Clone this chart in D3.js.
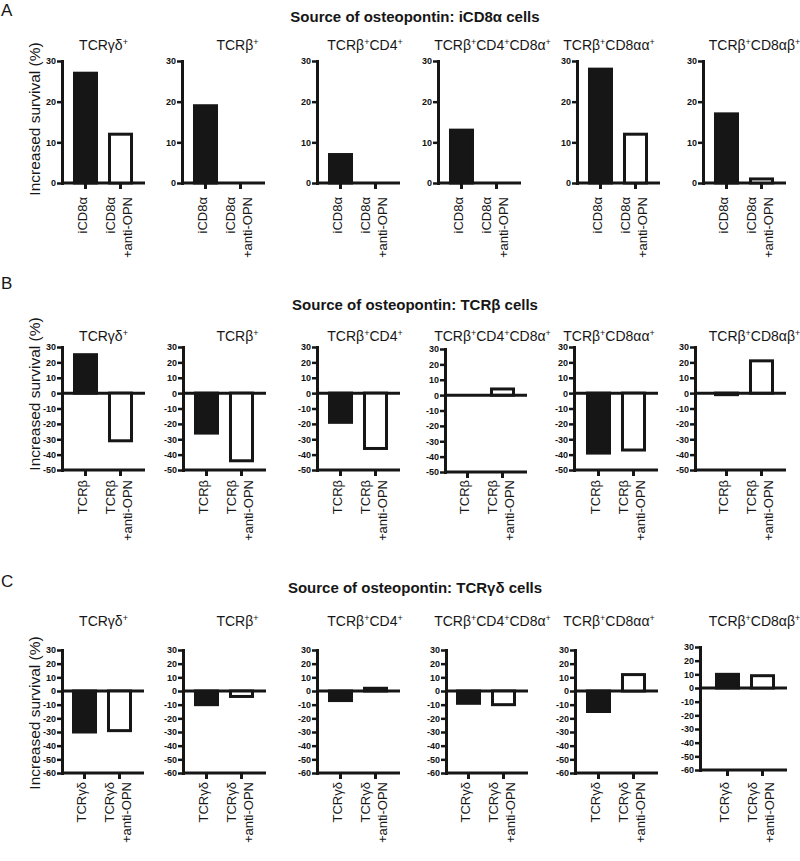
<!DOCTYPE html>
<html>
<head>
<meta charset="utf-8">
<script src="https://cdn.jsdelivr.net/npm/d3@7/dist/d3.min.js"></script>
<style>
  html, body { margin: 0; padding: 0; background: #fff; }
  svg { display: block; font-family: "Liberation Sans", Arial, sans-serif; }
</style>
</head>
<body>
<svg id="chart" width="800" height="861"></svg>
<script>
// ---------------- DATA ----------------
const subsets = ["TCRγδ+", "TCRβ+", "TCRβ+CD4+", "TCRβ+CD4+CD8α+", "TCRβ+CD8αα+", "TCRβ+CD8αβ+"];
const conditions = ["source", "source+anti-OPN"];
const panelLetters = ["A", "B", "C"];
const sourceCells = ["iCD8α", "TCRβ", "TCRγδ"];
const antiLabel = "+anti-OPN";
const rowTitles = ["Source of osteopontin: iCD8α cells", "Source of osteopontin: TCRβ cells", "Source of osteopontin: TCRγδ cells"];
const yTitle = "Increased survival (%)";

// Panel A (source iCD8α)
const survivalA = [27, 19, 7, 13, 28, 17];
const survivalA_antiOPN = [12, 0, 0, 0, 12, 1];
// Panel B (source TCRβ)
const survivalB = [25, -26, -19, 0, -39, -1];
const survivalB_antiOPN = [-31, -44, -36, 4, -37, 21];
// Panel C (source TCRγδ)
const survivalC = [-30, -10, -7, -9, -15, 10];
const survivalC_antiOPN = [-29, -4, 2, -10, 12, 9];

const ticksA = [0, 10, 20, 30];
const ticksB = [-50, -40, -30, -20, -10, 0, 10, 20, 30];
const ticksC = [-60, -50, -40, -30, -20, -10, 0, 10, 20, 30];

// ---------------- LAYOUT ----------------
const ink = "#161616";
const titleCx = [103.5, 237.5, 365, 492.5, 609, 754.5];
const rows = [
  { vals: survivalA, anti: survivalA_antiOPN, ticks: ticksA, dom: [0, 30],
    yTop: 61, yBot: 183, x0: [62, 182, 317, 438, 577, 703], x1: [145, 265, 400, 521, 660, 786],
    dy: [0, 0, 0, 0, 0, 0], labelTop: 197, titleY: 50, rowTitleY: 22, letterY: 16, yLabelC: 119 },
  { vals: survivalB, anti: survivalB_antiOPN, ticks: ticksB, dom: [-50, 30],
    yTop: 347, yBot: 470, x0: [62, 183, 317, 445, 574, 695], x1: [145, 266, 400, 527, 658, 786],
    dy: [0, 0, 0, 2, 0, 0], labelTop: 480, titleY: 341, rowTitleY: 310, letterY: 289, yLabelC: 394 },
  { vals: survivalC, anti: survivalC_antiOPN, ticks: ticksC, dom: [-60, 30],
    yTop: 650, yBot: 773, x0: [62, 183, 317, 446, 575, 700], x1: [144, 266, 400, 528, 658, 787],
    dy: [0, 0, 0, 0, 0, -3], labelTop: 782, titleY: 626, rowTitleY: 593, letterY: 587, yLabelC: 713 }
];

const svg = d3.select("#chart");

function superTitle(g, str, x, y) {
  const t = g.append("text").attr("x", x).attr("y", y).attr("text-anchor", "middle")
    .attr("fill", ink).attr("font-size", 14);
  const parts = str.split("+");
  let raised = false;
  parts.forEach((p, k) => {
    if (p.length) {
      t.append("tspan").attr("dy", raised ? 5 : 0).text(p);
      raised = false;
    }
    if (k < parts.length - 1) {
      t.append("tspan").attr("font-size", 9).attr("dy", raised ? 0 : -5).text("+");
      raised = true;
    }
  });
}

rows.forEach((row, r) => {
  const g = svg.append("g");
  g.append("text").attr("x", 1).attr("y", row.letterY).attr("font-size", 17).attr("fill", ink).text(panelLetters[r]);
  g.append("text").attr("x", 415).attr("y", row.rowTitleY).attr("text-anchor", "middle")
    .attr("font-size", 15).attr("font-weight", "bold").attr("fill", ink).text(rowTitles[r]);
  g.append("text").attr("transform", `translate(40,${row.yLabelC}) rotate(-90)`)
    .attr("text-anchor", "middle").attr("font-size", 15.5).attr("fill", ink).text(yTitle);

  subsets.forEach((sub, i) => {
    const x0 = row.x0[i], x1 = row.x1[i], off = row.dy[i];
    const y = d3.scaleLinear().domain(row.dom).range([row.yBot + off, row.yTop + off]);
    const xb = d3.scaleBand().domain(conditions).range([x1 - 77, x1 - 7])
      .paddingInner(0.371).paddingOuter(0.1855);
    const sg = g.append("g");

    superTitle(sg, sub, titleCx[i], row.titleY);

    const ya = sg.append("g").attr("transform", `translate(${x0},0)`)
      .call(d3.axisLeft(y).tickValues(row.ticks).tickSize(5).tickSizeOuter(0).tickPadding(1)
        .tickFormat(d => String(d)));
    ya.select(".domain").attr("stroke", ink).attr("stroke-width", 3).attr("stroke-linecap", "square");
    ya.selectAll(".tick line").attr("stroke", ink).attr("stroke-width", 2.5);
    ya.selectAll(".tick text").attr("font-size", 9).attr("font-weight", "bold").attr("fill", "#111")
      .attr("font-family", "'Liberation Sans', Arial, sans-serif");

    const yMin = y(row.dom[0]);
    const xa = sg.append("g").attr("transform", `translate(0,${yMin})`)
      .call(d3.axisBottom(xb).tickSize(6).tickSizeOuter(0).tickFormat(""));
    xa.select(".domain").remove();
    xa.selectAll(".tick line").attr("stroke", ink).attr("stroke-width", 3);
    sg.append("line").attr("x1", x0).attr("x2", x1).attr("y1", yMin).attr("y2", yMin)
      .attr("stroke", ink).attr("stroke-width", 3);
    if (row.dom[0] < 0) {
      sg.append("line").attr("x1", x0).attr("x2", x1).attr("y1", y(0)).attr("y2", y(0))
        .attr("stroke", ink).attr("stroke-width", 3);
    }

    const data = [
      { c: conditions[0], v: row.vals[i], fill: ink },
      { c: conditions[1], v: row.anti[i], fill: "#fff" }
    ].filter(d => d.v !== 0);
    sg.selectAll("rect.bar").data(data).enter().append("rect").attr("class", "bar")
      .attr("x", d => xb(d.c))
      .attr("width", xb.bandwidth())
      .attr("y", d => Math.min(y(d.v), y(0)))
      .attr("height", d => Math.abs(y(d.v) - y(0)))
      .attr("fill", d => d.fill)
      .attr("stroke", ink).attr("stroke-width", 3);

    const cx0 = xb(conditions[0]) + xb.bandwidth() / 2;
    const cx1 = xb(conditions[1]) + xb.bandwidth() / 2;
    const labels = [
      { x: cx0 - 3.5, t: sourceCells[r] },
      { x: cx1 - 10, t: sourceCells[r] },
      { x: cx1 + 6.5, t: antiLabel }
    ];
    sg.selectAll("text.xl").data(labels).enter().append("text").attr("class", "xl")
      .attr("transform", d => `translate(${d.x},${row.labelTop}) rotate(-90)`)
      .attr("text-anchor", "end").attr("dominant-baseline", "central")
      .attr("font-size", 13).attr("fill", ink).text(d => d.t);
  });
});
</script>
</body>
</html>
